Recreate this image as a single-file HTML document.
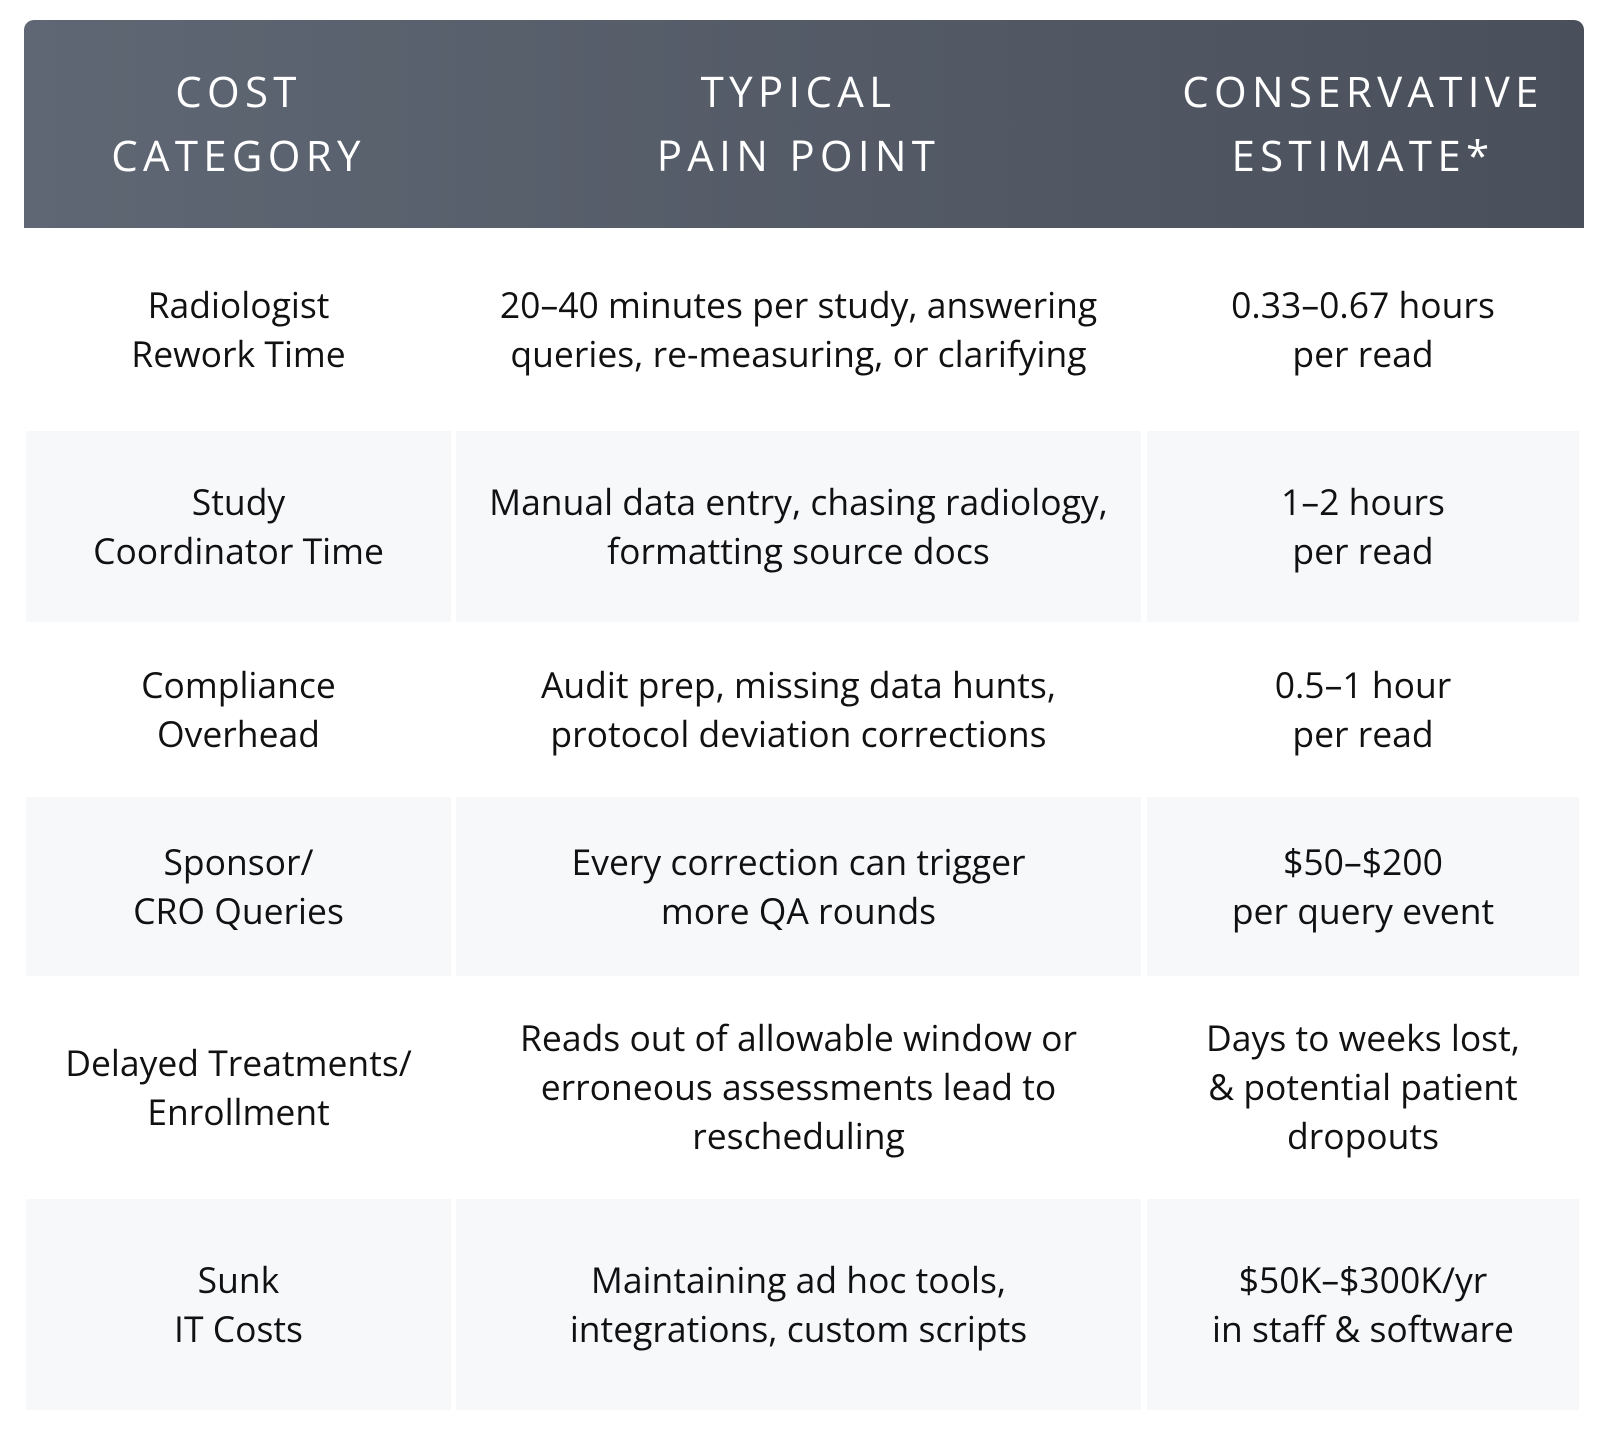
<!DOCTYPE html>
<html><head><meta charset="utf-8"><style>
body{margin:0;width:1600px;height:1439px;background:#fff;position:relative;overflow:hidden;font-family:"Open Sans","Liberation Sans",sans-serif;}
.hd{position:absolute;left:24px;top:20px;width:1560px;height:208px;border-radius:10px 10px 0 0;background:linear-gradient(90deg,#5f6774,#525965 60%,#4a505b);}
.h{position:absolute;top:20px;height:208px;display:flex;align-items:center;justify-content:center;text-align:center;color:#fff;font-size:42px;letter-spacing:5.3px;line-height:64px;}
.c{position:absolute;display:flex;align-items:center;justify-content:center;text-align:center;color:#111;font-size:35.5px;line-height:49px;}
.g{background:#f7f8fa;}
</style></head><body>
<div class="hd"></div>
<div class="h" style="left:26px;width:425px">COST<br>CATEGORY</div>
<div class="h" style="left:456px;width:685px">TYPICAL<br>PAIN POINT</div>
<div class="h" style="left:1147px;width:432px">CONSERVATIVE<br>ESTIMATE*</div>

<div class="c" style="left:26px;width:425px;top:228px;height:203px">Radiologist<br>Rework Time</div>
<div class="c" style="left:456px;width:685px;top:228px;height:203px">20–40 minutes per study, answering<br>queries, re-measuring, or clarifying</div>
<div class="c" style="left:1147px;width:432px;top:228px;height:203px">0.33–0.67 hours<br>per read</div>

<div class="c g" style="left:26px;width:425px;top:431px;height:191px">Study<br>Coordinator Time</div>
<div class="c g" style="left:456px;width:685px;top:431px;height:191px">Manual data entry, chasing radiology,<br>formatting source docs</div>
<div class="c g" style="left:1147px;width:432px;top:431px;height:191px">1–2 hours<br>per read</div>

<div class="c" style="left:26px;width:425px;top:622px;height:175px">Compliance<br>Overhead</div>
<div class="c" style="left:456px;width:685px;top:622px;height:175px">Audit prep, missing data hunts,<br>protocol deviation corrections</div>
<div class="c" style="left:1147px;width:432px;top:622px;height:175px">0.5–1 hour<br>per read</div>

<div class="c g" style="left:26px;width:425px;top:797px;height:179px">Sponsor/<br>CRO Queries</div>
<div class="c g" style="left:456px;width:685px;top:797px;height:179px">Every correction can trigger<br>more QA rounds</div>
<div class="c g" style="left:1147px;width:432px;top:797px;height:179px">$50–$200<br>per query event</div>

<div class="c" style="left:26px;width:425px;top:976px;height:223px">Delayed Treatments/<br>Enrollment</div>
<div class="c" style="left:456px;width:685px;top:976px;height:223px">Reads out of allowable window or<br>erroneous assessments lead to<br>rescheduling</div>
<div class="c" style="left:1147px;width:432px;top:976px;height:223px">Days to weeks lost,<br>&amp; potential patient<br>dropouts</div>

<div class="c g" style="left:26px;width:425px;top:1199px;height:211px">Sunk<br>IT Costs</div>
<div class="c g" style="left:456px;width:685px;top:1199px;height:211px">Maintaining ad hoc tools,<br>integrations, custom scripts</div>
<div class="c g" style="left:1147px;width:432px;top:1199px;height:211px">$50K–$300K/yr<br>in staff &amp; software</div>
</body></html>
